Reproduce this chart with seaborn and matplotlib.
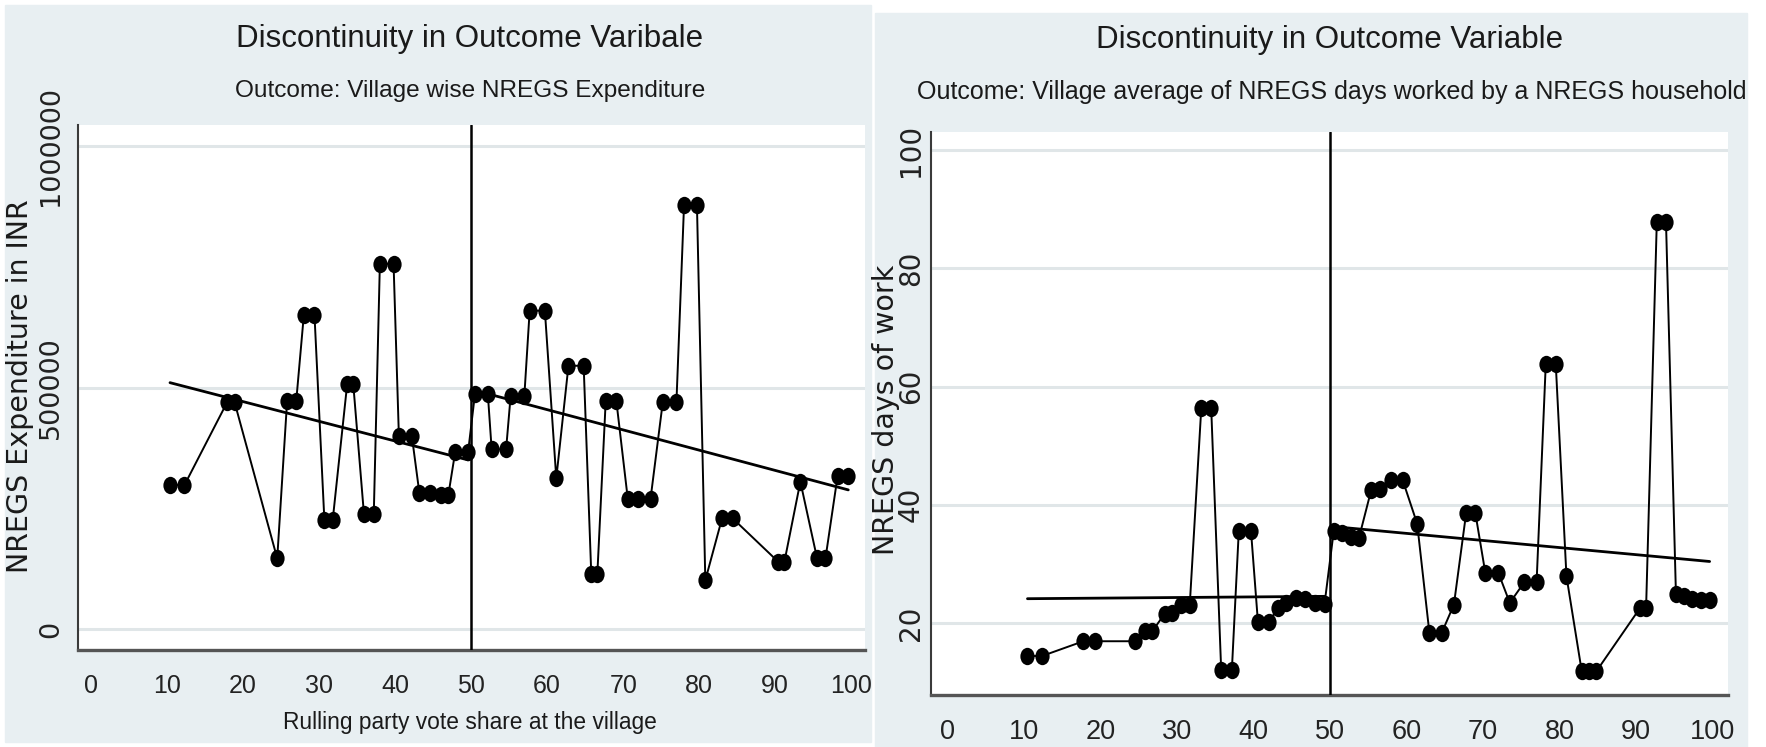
import numpy as np
import pandas as pd
import matplotlib
matplotlib.use("Agg")
import matplotlib.pyplot as plt
import seaborn as sns
from matplotlib.path import Path
from matplotlib.patches import Rectangle
from matplotlib import font_manager as fm

# ---------------- data ----------------
cutoff = 50

left_vote = [10.4, 12.3, 17.9, 18.9, 24.5, 25.8, 27.0, 28.0, 29.4, 30.7, 31.8,
             33.7, 34.5, 35.9, 37.2, 38.0, 39.8, 40.5, 42.2, 43.2, 44.6, 46.0,
             47.0, 47.9, 49.6,
             50.5, 52.2, 52.7, 54.6, 55.2, 57.0, 57.7, 59.7, 61.2, 62.8, 64.8,
             65.8, 66.6, 67.7, 69.1, 70.6, 72.0, 73.6, 75.2, 77.0, 78.0, 79.7,
             80.8, 83.0, 84.4, 90.4, 91.2, 93.3, 95.5, 96.6, 98.2, 99.6]
left_expenditure = [298000, 298000, 469000, 469000, 146000, 472000, 472000,
                    650000, 650000, 226000, 226000, 507000, 507000, 239000,
                    239000, 756000, 756000, 400000, 400000, 281000, 281000,
                    277000, 277000, 366000, 366000,
                    486000, 486000, 372000, 372000, 483000, 483000, 659000,
                    659000, 312000, 545000, 545000, 114000, 114000, 472000,
                    472000, 270000, 270000, 270000, 469000, 469000, 877000,
                    877000, 101000, 229000, 229000, 139000, 139000, 305000,
                    146000, 146000, 317000, 317000]
left_fit_below_x = [10.4, 49.6]
left_fit_below_y = [510000, 350000]
left_fit_above_x = [50.5, 99.6]
left_fit_above_y = [494000, 288000]

right_vote = [10.5, 12.4, 17.8, 19.3, 24.6, 25.8, 26.8, 28.4, 29.4, 30.5, 31.7,
              33.2, 34.5, 35.8, 37.2, 38.1, 39.7, 40.6, 42.1, 43.2, 44.3, 45.6,
              46.7, 48.0, 49.3,
              50.5, 51.6, 52.7, 53.8, 55.4, 56.5, 58.0, 59.5, 61.4, 63.0, 64.6,
              66.2, 67.8, 69.0, 70.3, 72.0, 73.5, 75.4, 77.0, 78.2, 79.5, 80.9,
              82.9, 83.8, 84.8, 90.5, 91.3, 92.7, 93.9, 95.2, 96.3, 97.3, 98.5,
              99.6]
right_days = [14.4, 14.4, 16.9, 16.9, 16.9, 18.6, 18.6, 21.5, 21.7, 23.0, 23.1,
              56.3, 56.3, 12.1, 12.1, 35.5, 35.5, 20.2, 20.2, 22.6, 23.3, 24.2,
              24.0, 23.3, 23.2,
              35.5, 35.2, 34.5, 34.4, 42.5, 42.6, 44.2, 44.2, 36.8, 18.3, 18.3,
              23.1, 38.6, 38.6, 28.5, 28.5, 23.4, 26.9, 26.9, 63.9, 63.9, 27.9,
              11.8, 11.8, 11.8, 22.5, 22.5, 87.9, 87.9, 24.9, 24.6, 24.0, 23.9,
              23.9]
right_fit_below_x = [10.5, 49.3]
right_fit_below_y = [24.1, 24.5]
right_fit_above_x = [50.5, 99.6]
right_fit_above_y = [36.3, 30.4]

x_ticks = [0, 10, 20, 30, 40, 50, 60, 70, 80, 90, 100]
left_yticks = [0, 500000, 1000000]
right_yticks = [20, 40, 60, 80, 100]

left_title = "Discontinuity in Outcome Varibale"
left_subtitle = "Outcome: Village wise NREGS Expenditure"
left_ylabel = "NREGS Expenditure in INR"
left_xlabel = "Rulling party vote share at the village"
right_title = "Discontinuity in Outcome Variable"
right_subtitle = "Outcome: Village average of NREGS days worked by a NREGS household"
right_ylabel = "NREGS days of work"

# ---------------- style ----------------
sns.set_style("white")
names = {f.name for f in fm.fontManager.ttflist}
HFONT = "Liberation Sans" if "Liberation Sans" in names else "DejaVu Sans"
VFONT = "DejaVu Sans"
plt.rcParams["font.family"] = [HFONT, "DejaVu Sans"]

BG = "#E8EFF2"
GRID = "#E0E6E8"
W, H = 1766, 747

fig = plt.figure(figsize=(W / 100, H / 100), dpi=100)
fig.patch.set_facecolor("white")
fig.patches.append(Rectangle((5 / W, 1 - 742 / H), 866 / W, 737 / H,
                             transform=fig.transFigure, color=BG, zorder=-10))
fig.patches.append(Rectangle((875 / W, 0), 872 / W, (H - 13) / H,
                             transform=fig.transFigure, color=BG, zorder=-10))

circ = Path.unit_circle()
dot = Path(circ.vertices * np.array([0.82, 1.0]), circ.codes)


def px_axes(l, r, t, b):
    return fig.add_axes([l / W, 1 - b / H, (r - l) / W, (b - t) / H])


axL = px_axes(78, 865, 125, 650)
axR = px_axes(931, 1728, 132, 695)


def draw(ax, xs, ys, fb, fa, xlim, ylim, yticks, xtick_size, ytick_size,
         ytick_len, ytick_pad):
    ax.set_facecolor("white")
    df = pd.DataFrame({"x": xs, "y": ys})
    sns.lineplot(data=df, x="x", y="y", ax=ax, color="black", lw=1.4,
                 marker=dot, markersize=12.5, markeredgewidth=0,
                 markerfacecolor="black", estimator=None, sort=True, zorder=3)
    sns.lineplot(x=fb[0], y=fb[1], ax=ax, color="black", lw=2.0, zorder=4)
    sns.lineplot(x=fa[0], y=fa[1], ax=ax, color="black", lw=2.0, zorder=4)
    ax.axvline(cutoff, color="black", lw=1.8, zorder=5)
    ax.set_xlim(*xlim)
    ax.set_ylim(*ylim)
    ax.set_xticks(x_ticks)
    ax.set_xticklabels([str(t) for t in x_ticks], family=HFONT,
                       fontsize=xtick_size)
    ax.set_yticks(yticks)
    ax.set_yticklabels([str(int(t)) for t in yticks], family=VFONT,
                       fontsize=ytick_size, rotation=90, va="center")
    ax.yaxis.grid(True, color=GRID, lw=2.2, zorder=0)
    ax.xaxis.grid(False)
    ax.set_axisbelow(True)
    for s in ("top", "right"):
        ax.spines[s].set_visible(False)
    ax.spines["left"].set_color("#3a3a3a")
    ax.spines["left"].set_linewidth(1.5)
    ax.spines["bottom"].set_color("#555555")
    ax.spines["bottom"].set_linewidth(2.4)
    ax.tick_params(axis="x", direction="out", length=6, width=1.2,
                   color="#444444", pad=11, labelcolor="#222222")
    ax.tick_params(axis="y", direction="out", length=ytick_len, width=1.2,
                   color="#444444", pad=ytick_pad, labelcolor="#222222")
    ax.set_xlabel("")
    ax.set_ylabel("")


draw(axL, left_vote, left_expenditure,
     (left_fit_below_x, left_fit_below_y), (left_fit_above_x, left_fit_above_y),
     (-1.7, 101.8), (-43500, 1043500), left_yticks, 18, 19.5, 6, 4)
draw(axR, right_vote, right_days,
     (right_fit_below_x, right_fit_below_y), (right_fit_above_x, right_fit_above_y),
     (-2.1, 102.0), (7.8, 103.1), right_yticks, 19.5, 20, 4, 0.5)

tc = "#1a1a1a"
fig.text(470 / W, 1 - 39 / H, left_title, ha="center", va="center",
         family=HFONT, fontsize=22.5, color=tc)
fig.text(470 / W, 1 - 91 / H, left_subtitle, ha="center", va="center",
         family=HFONT, fontsize=17.6, color=tc)
fig.text(1330 / W, 1 - 40 / H, right_title, ha="center", va="center",
         family=HFONT, fontsize=22.5, color=tc)
fig.text(1332 / W, 1 - 92 / H, right_subtitle, ha="center", va="center",
         family=HFONT, fontsize=18, color=tc)
fig.text(20 / W, 1 - 386 / H, left_ylabel, rotation=90, ha="center", va="center",
         family=VFONT, fontsize=20.5, color=tc)
fig.text(886 / W, 1 - 410 / H, right_ylabel, rotation=90, ha="center", va="center",
         family=VFONT, fontsize=20.5, color=tc)
fig.text(470 / W, 1 - 723 / H, left_xlabel, ha="center", va="center",
         family=HFONT, fontsize=16.4, color=tc)

fig.savefig("out.png", dpi=100, facecolor=fig.get_facecolor())
